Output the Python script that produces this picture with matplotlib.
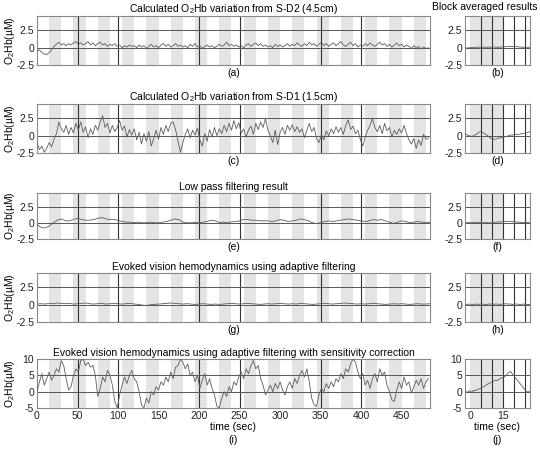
import numpy as np
import matplotlib
matplotlib.use("Agg")
import matplotlib.pyplot as plt

plt.rcParams['font.family'] = ['Liberation Sans', 'DejaVu Sans']
plt.rcParams['font.size'] = 7
plt.rcParams['axes.unicode_minus'] = False
plt.rcParams['mathtext.fontset'] = 'custom'
plt.rcParams['mathtext.rm'] = 'Liberation Sans'
plt.rcParams['mathtext.it'] = 'Liberation Sans:italic'

# ---- data ----
# main traces, sampled every 3 s (a, c, i) or 5 s (e, g)
s_d2_raw = [-0.5, -0.3, -0.7, -0.9, -1.0, -0.7, -0.3, 0.2, 0.5, 0.8, 0.4, 0.6, 0.3, 0.6, 0.4, 0.7,
            0.9, 0.5, 0.7, 0.4, 0.6, 0.9, 0.4, 0.7, 0.3, 0.6, 0.8, 0.4, 0.6, 0.2, 0.5, 0.3,
            0.6, 0.2, 0.4, 0.0, 0.3, 0.1, 0.4, 0.2, 0.3, 0.0, 0.4, 0.1, 0.3, -0.1, 0.2, 0.5,
            0.1, 0.3, 0.0, 0.4, 0.6, 0.2, 0.5, 0.1, 0.3, 0.6, 0.2, 0.4, 0.1, 0.3, 0.0, 0.5,
            0.2, 0.6, 0.1, 0.3, -0.1, 0.2, 0.4, 0.1, 0.3, 0.0, 0.2, 0.5, 0.2, 0.4, 0.8, 0.3,
            0.5, 0.2, 0.4, 0.1, 0.3, 0.0, 0.4, 0.6, 0.2, 0.5, 0.7, 0.3, 0.6, 0.2, 0.4, 0.1,
            0.3, 0.0, 0.5, 0.2, 0.4, 0.1, 0.3, 0.6, 0.2, 0.5, 0.3, 0.7, 0.4, 0.2, 0.6, 0.3,
            0.8, 0.4, 0.6, 0.2, 0.5, 0.8, 0.3, 0.6, 0.2, 0.5, 0.7, 0.3, 0.6, 0.9, 0.4, 0.2,
            0.5, 0.8, 0.3, 0.6, 0.1, 0.4, 0.2, 0.6, 0.3, 0.7, 0.4, 0.2, 0.5, 0.8, 0.4, 0.6,
            0.2, 0.5, 0.1, 0.4, 0.7, 0.3, 0.5, 0.1, 0.4, 0.2, -0.1, 0.3, 0.0, 0.2, -0.2, 0.1,
            -0.1, 0.0]
s_d1_raw = [-1.0, -2.0, -1.5, -2.4, -1.8, -1.0, -1.6, -0.5, 0.3, 2.0, 1.0, 0.5, 1.5, 0.2, 1.2, 0.4,
            1.8, 0.8, 2.0, 0.5, 1.3, -0.3, 1.0, 0.2, 1.5, 0.8, 2.0, 2.9, 1.2, 1.8, 0.4, 1.5,
            0.6, 1.2, 2.2, 0.8, 1.4, -0.2, 0.9, 0.1, 1.0, -0.6, 0.5, -1.2, 0.3, -0.8, 0.6, -1.5,
            -0.4, 0.8, -0.5, 1.2, 0.2, 1.5, 0.6, 1.8, 2.0, 0.9, -0.8, -2.4, -1.0, 0.2, 1.0, -0.3,
            0.8, 0.1, 1.1, -0.6, -1.5, 0.3, -0.8, 0.9, -0.2, 1.2, 0.0, 1.0, 0.3, 1.5, 0.6, 1.8,
            0.8, 2.2, 1.0, 1.9, 0.4, 1.0, -0.2, 0.8, 1.4, 0.2, 1.8, 0.9, 2.0, 1.2, 2.5, 0.8,
            0.0, -1.0, 0.8, -1.3, 0.5, 1.2, 0.2, 1.5, 0.8, 1.6, 0.6, 1.3, 0.5, 1.0, -0.3, 0.8,
            1.8, 0.6, 1.2, -0.4, -1.0, 0.2, -0.6, 0.7, 0.0, 1.0, 0.3, 1.3, 0.5, 1.2, 0.2, 1.5,
            2.3, 0.9, 1.4, 0.3, 0.8, -0.5, -1.5, -0.2, 0.8, 1.5, 2.5, 1.2, 0.6, 1.5, 0.3, 1.8,
            0.7, 1.2, -0.2, 0.8, 0.2, 1.0, 0.4, 1.5, 0.3, -0.6, -1.2, -0.4, -1.8, -0.6, -1.4, 0.2,
            -0.5, -0.3]
low_pass = [-0.3, -0.7, -0.8, -0.5, 0.0, 0.4, 0.6, 0.3, 0.3, 0.5, 0.7, 0.5, 0.4, 0.4, 0.5, 0.7,
            0.8, 0.6, 0.5, 0.5, 0.4, 0.2, 0.1, 0.1, 0.05, 0.1, 0.0, 0.0, 0.1, 0.0, 0.0, 0.1,
            0.2, 0.4, 0.6, 0.5, 0.1, 0.0, 0.0, 0.05, 0.0, 0.1, 0.2, 0.4, 0.3, 0.05, 0.1, 0.0,
            0.15, 0.2, 0.3, 0.5, 0.5, 0.4, 0.4, 0.3, 0.3, 0.3, 0.2, 0.3, 0.5, 0.4, 0.2, 0.3,
            0.4, 0.6, 0.5, 0.3, 0.0, -0.1, 0.0, 0.2, 0.3, 0.2, 0.3, 0.4, 0.5, 0.6, 0.5, 0.4,
            0.3, 0.2, 0.3, 0.5, 0.4, 0.5, 0.3, 0.1, -0.1, 0.1, 0.3, 0.2, 0.0, 0.1, 0.2, 0.1,
            0.0, 0.1]
adaptive = [0.1, 0.15, 0.1, 0.2, 0.15, 0.25, 0.2, 0.15, 0.2, 0.1, 0.15, 0.2, 0.25, 0.15, 0.1, 0.15,
            0.2, 0.1, 0.15, 0.2, 0.15, 0.1, 0.15, 0.2, 0.1, 0.05, -0.05, -0.1, 0.0, 0.05, 0.1, 0.15,
            0.2, 0.25, 0.2, 0.15, 0.1, 0.15, 0.1, 0.05, 0.1, 0.15, 0.1, 0.05, 0.1, 0.05, 0.1, 0.15,
            0.2, 0.15, 0.1, 0.15, 0.2, 0.15, 0.1, 0.05, 0.1, 0.15, 0.1, 0.15, 0.2, 0.15, 0.1, 0.15,
            0.1, 0.2, 0.15, 0.1, 0.05, 0.1, 0.15, 0.2, 0.15, 0.1, 0.15, 0.2, 0.25, 0.2, 0.15, 0.1,
            0.15, 0.1, 0.15, 0.2, 0.15, 0.1, 0.05, 0.1, 0.15, 0.1, 0.15, 0.1, 0.05, 0.1, 0.15, 0.1,
            0.1, 0.15]
corrected = [0, 3, 5.5, 2, 4, 6, 3.5, 5, 7, 6, 9.5, 8, 4, 0.5, 1.5, 5,
             7, 6, 9.5, 10, 8, 9, 7.5, 8, 5, -1.5, 1, 4.5, 3, 6.5, 5, 2,
             -3, -5, -1, 2, 4.5, 2.5, 5, 6.5, 4, 3, 0, -4, -5, -2, -3.5, 0,
             -1, 1.5, 0.5, 3, 2, 4.5, 3, 6, 4, 7.5, 8, 10, 9, 7, 8.5, 5,
             6, 3, 5, 1, 3.5, 5.5, 2, 4, 1, -1, -4.5, -5, -2, 0, -1.5, 1.5,
             0, 3, 2, 4.5, 6, 4, 7, 5.5, 8, 9.5, 7, 8, 4, 2, -1, 0.5,
             2, 0, 2.5, 1, 3, 0.5, -1, 1.5, 3, 1, 4, 2.5, 5, 6.5, 4.5, 7,
             3, -2, -4, -4.5, -1, 1, 0, 2.5, 1, 3, 1.5, 4, 3, 5.5, 4, 7,
             6, 8.5, 10, 9, 6, 4, 5.5, 2, 3.5, 1, 4, 5.5, 3, 7, 5, 6,
             2, 0, -2.5, -3, 0.5, 3, 1, 4.5, 2, 3, -0.5, 1.5, 3.5, 2, 4, 1,
             3, 4]

# block averages, one value per second from -2.5 s to 27.5 s
block_b = [0.0, -0.05, 0.0, 0.05, 0.0, 0.05, 0.1, 0.05, 0.05, 0.1, 0.05, 0.1, 0.05, 0.1, 0.1, 0.05,
           0.1, 0.1, 0.15, 0.15, 0.2, 0.2, 0.15, 0.2, 0.15, 0.1, 0.1, 0.05, 0.1, 0.05, 0.1]
block_d = [0.3, 0.1, 0.0, -0.1, 0.0, 0.2, 0.4, 0.6, 0.5, 0.3, 0.1, -0.1, -0.4, -0.5, -0.5, -0.4,
           -0.3, -0.3, -0.2, -0.1, 0.0, 0.1, 0.1, 0.2, 0.2, 0.2, 0.3, 0.3, 0.4, 0.5, 0.6]
block_f = [0.0, 0.0, 0.05, 0.0, 0.05, 0.05, 0.1, 0.05, 0.0, 0.0, 0.05, 0.0, 0.0, 0.05, 0.1, 0.1,
           0.15, 0.15, 0.2, 0.2, 0.25, 0.2, 0.2, 0.15, 0.1, 0.1, 0.05, 0.05, 0.1, 0.05, 0.0]
block_h = [0.05, 0.05, 0.1, 0.05, 0.05, 0.1, 0.05, 0.1, 0.1, 0.05, 0.05, 0.1, 0.1, 0.05, 0.1, 0.1,
           0.05, 0.1, 0.1, 0.15, 0.1, 0.1, 0.05, 0.1, 0.1, 0.05, 0.05, 0.1, 0.05, 0.05, 0.05]
block_j = [0.2, -0.3, 0.3, -0.2, 0.4, 0.3, 0.8, 0.9, 1.4, 1.6, 2.2, 2.5, 2.9, 3.2, 3.5, 3.4,
           3.9, 4.2, 4.5, 5.0, 5.8, 6.2, 5.3, 4.5, 3.6, 2.8, 2.0, 1.1, 0.3, -0.2, 0.2]

titles = ["Calculated O$_2$Hb variation from S-D2 (4.5cm)",
          "Calculated O$_2$Hb variation from S-D1 (1.5cm)",
          "Low pass filtering result",
          "Evoked vision hemodynamics using adaptive filtering",
          "Evoked vision hemodynamics using adaptive filtering with sensitivity correction"]
main_series = [(s_d2_raw, 3), (s_d1_raw, 3), (low_pass, 5), (adaptive, 5), (corrected, 3)]
block_series = [block_b, block_d, block_f, block_h, block_j]
main_labels = ["(a)", "(c)", "(e)", "(g)", "(i)"]
block_labels = ["(b)", "(d)", "(f)", "(h)", "(j)"]

stim_period = 30     # s, 15 s rest then 15 s stimulus
stim_length = 15
run_length = 485

# ---- layout in pixels ----
W, H = 540, 453
fig = plt.figure(figsize=(W / 100, H / 100), dpi=100)
rows = [(16, 65), (104, 153), (193, 239), (273, 322), (359, 408)]
line_col = "#5c5c5c"
band_col = "#e4e4e4"
grid_col = "#555555"


def px_axes(left, top, right, bottom):
    return fig.add_axes([left / W, 1 - bottom / H, (right - left) / W, (bottom - top) / H])


def style(ax):
    for sp in ax.spines.values():
        sp.set_color("#888888")
        sp.set_linewidth(0.8)
    ax.tick_params(length=0, pad=2, labelsize=7.5, colors="#222222")


for i in range(5):
    top, bottom = rows[i]
    last = (i == 4)
    ylim = (-5, 10) if last else (-2.5, 4.6)
    yticks = [-5, 0, 5, 10] if last else [-2.5, 0, 2.5]
    hlines = [0, 5] if last else [0, 2.5]

    # main panel
    ax = px_axes(37, top, 430, bottom)
    style(ax)
    for start in range(stim_length, run_length, stim_period):
        ax.axvspan(start, start + stim_length, color=band_col, lw=0, zorder=0)
    for t in range(50, run_length, 50):
        if t % 150:
            ax.axvline(t, color="#333333", lw=0.8, zorder=1)
    for h in hlines:
        ax.axhline(h, color=grid_col, lw=0.7, zorder=1)
    vals, step = main_series[i]
    t_main = np.arange(len(vals)) * step
    ax.plot(t_main, vals, color=line_col, lw=0.6, zorder=3)
    ax.set_xlim(0, run_length)
    ax.set_ylim(*ylim)
    ax.set_yticks(yticks)
    ax.set_yticklabels([f"{v:g}" for v in yticks])
    ax.set_ylabel("O$_2$Hb(\u00b5M)", fontsize=7.5)
    ax.yaxis.set_label_coords(-0.052, 0.5)
    ax.set_title(titles[i], fontsize=7.5, pad=2)
    if last:
        ax.set_xticks(range(0, 451, 50))
        ax.set_xlabel("time (sec)\n" + main_labels[i], fontsize=7.5, labelpad=1, linespacing=1.3)
    else:
        ax.set_xticks([])
        ax.set_xlabel(main_labels[i], fontsize=7.5, labelpad=2)

    # block averaged panel
    bx = px_axes(465, top, 530, bottom)
    style(bx)
    bx.axvspan(0, stim_length, color=band_col, lw=0, zorder=0)
    for t in range(5, 26, 5):
        bx.axvline(t, color="#333333", lw=0.8, zorder=1)
    for h in hlines:
        bx.axhline(h, color=grid_col, lw=0.7, zorder=1)
    t_block = np.arange(len(block_series[i])) - 2.5
    bx.plot(t_block, block_series[i], color=line_col, lw=0.6, zorder=3)
    bx.set_xlim(-2.5, 27.5)
    bx.set_ylim(*ylim)
    bx.set_yticks(yticks)
    bx.set_yticklabels([f"{v:g}" for v in yticks])
    if last:
        bx.set_xticks([0, 15])
        bx.set_xlabel("time (sec)\n" + block_labels[i], fontsize=7.5, labelpad=1, linespacing=1.3)
    else:
        bx.set_xticks([])
        bx.set_xlabel(block_labels[i], fontsize=7.5, labelpad=2)

fig.text(485 / W, 1 - 7 / H, "Block averaged results", ha="center", va="center", fontsize=7.5)

fig.savefig("out.png", dpi=100)
